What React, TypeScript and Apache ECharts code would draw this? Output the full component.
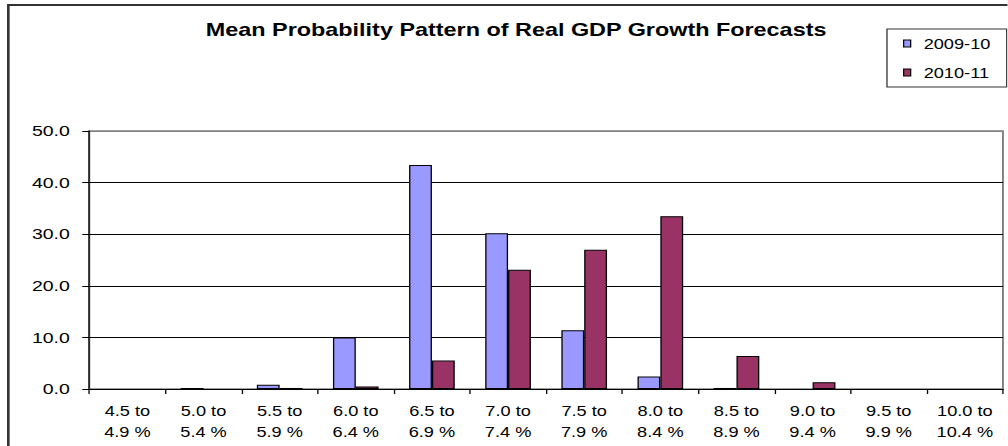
import React, { useEffect, useRef } from "react";
import * as echarts from "echarts";

const categories = [
  "4.5 to\n4.9 %", "5.0 to\n5.4 %", "5.5 to\n5.9 %", "6.0 to\n6.4 %",
  "6.5 to\n6.9 %", "7.0 to\n7.4 %", "7.5 to\n7.9 %", "8.0 to\n8.4 %",
  "8.5 to\n8.9 %", "9.0 to\n9.4 %", "9.5 to\n9.9 %", "10.0 to\n10.4 %",
];
const series2009 = [0, 0.2, 0.8, 10.0, 43.4, 30.2, 11.4, 2.4, 0.2, 0, 0, 0];
const series2010 = [0, 0, 0.2, 0.5, 5.5, 23.1, 27.0, 33.5, 6.4, 1.3, 0, 0];
const seriesNames = ["2009-10", "2010-11"];
const titleText = "Mean Probability Pattern of Real GDP Growth Forecasts";

const S = 1.3; // horizontal stretch of the original picture
const W = 1008 / S;
const H = 446;
const FONT = '"Liberation Sans", Arial, sans-serif';

// zero values draw no bar at all
const noZero = (arr: number[]) => arr.map((v) => (v === 0 ? "-" : v));

export default function App() {
  const ref = useRef<HTMLDivElement>(null);
  useEffect(() => {
    if (!ref.current) return;
    const chart = echarts.init(ref.current, null, { renderer: "svg" });
    chart.setOption({
      animation: false,
      backgroundColor: "#ffffff",
      textStyle: { fontFamily: FONT },
      graphic: [
        {
          type: "rect",
          shape: { x: 6.4, y: 5, width: 900, height: 600 },
          style: { fill: "none", stroke: "#333333", lineWidth: 2 },
          z: 100,
        },
        {
          type: "rect",
          shape: { x: 682.3, y: 29, width: 92.1, height: 58 },
          style: { fill: "#ffffff", stroke: "#333333", lineWidth: 1 },
          z: 1,
        },
        {
          type: "text",
          x: 397,
          y: 29.5,
          style: {
            text: titleText,
            textAlign: "center",
            textVerticalAlign: "middle",
            font: `bold 18px ${FONT}`,
            fill: "#000000",
          },
        },
      ],
      legend: {
        orient: "vertical",
        left: 682.3,
        top: 29,
        padding: [6, 0, 6, 12.3],
        itemGap: 12,
        itemWidth: 5.4,
        itemHeight: 7,
        icon: "rect",
        borderWidth: 0,
        z: 10,
        textStyle: { fontSize: 14, color: "#000", fontFamily: FONT, lineHeight: 17, padding: [0, 0, 0, 5] },
        itemStyle: { borderColor: "#000", borderWidth: 1 },
        data: seriesNames,
      },
      grid: {
        left: 68.7,
        right: 3.5,
        top: 131,
        bottom: 57,
        show: true,
        borderColor: "#808080",
        borderWidth: 1.5,
        backgroundColor: "transparent",
      },
      xAxis: {
        type: "category",
        data: categories,
        boundaryGap: true,
        axisLine: { lineStyle: { color: "#000", width: 1 } },
        axisTick: { show: true, length: 5, lineStyle: { color: "#000" } },
        axisLabel: { fontSize: 14, color: "#000", lineHeight: 21, margin: 11, interval: 0, fontFamily: FONT },
        splitLine: { show: false },
      },
      yAxis: {
        type: "value",
        min: 0,
        max: 50,
        interval: 10,
        axisLine: { show: true, lineStyle: { color: "#000", width: 1 } },
        axisTick: { show: true, length: 5.4, lineStyle: { color: "#000" } },
        axisLabel: {
          fontSize: 15,
          color: "#000",
          margin: 15,
          fontFamily: FONT,
          formatter: (v: number) => v.toFixed(1),
        },
        splitLine: {
          show: true,
          lineStyle: { color: ["#000", "#000", "#000", "#000", "#000", "#808080"], width: 1 },
        },
      },
      series: [
        {
          name: seriesNames[0],
          type: "bar",
          data: noZero(series2009),
          barGap: "0%",
          barCategoryGap: "40%",
          itemStyle: { color: "#9999FF", borderColor: "#000", borderWidth: 1 },
        },
        {
          name: seriesNames[1],
          type: "bar",
          data: noZero(series2010),
          barGap: "0%",
          barCategoryGap: "40%",
          itemStyle: { color: "#993366", borderColor: "#000", borderWidth: 1 },
        },
      ],
    });
    return () => chart.dispose();
  }, []);
  return (
    <div
      ref={ref}
      style={{
        position: "fixed",
        left: 0,
        top: 0,
        width: `${W}px`,
        height: `${H}px`,
        transform: `scaleX(${S})`,
        transformOrigin: "0 0",
      }}
    />
  );
}
